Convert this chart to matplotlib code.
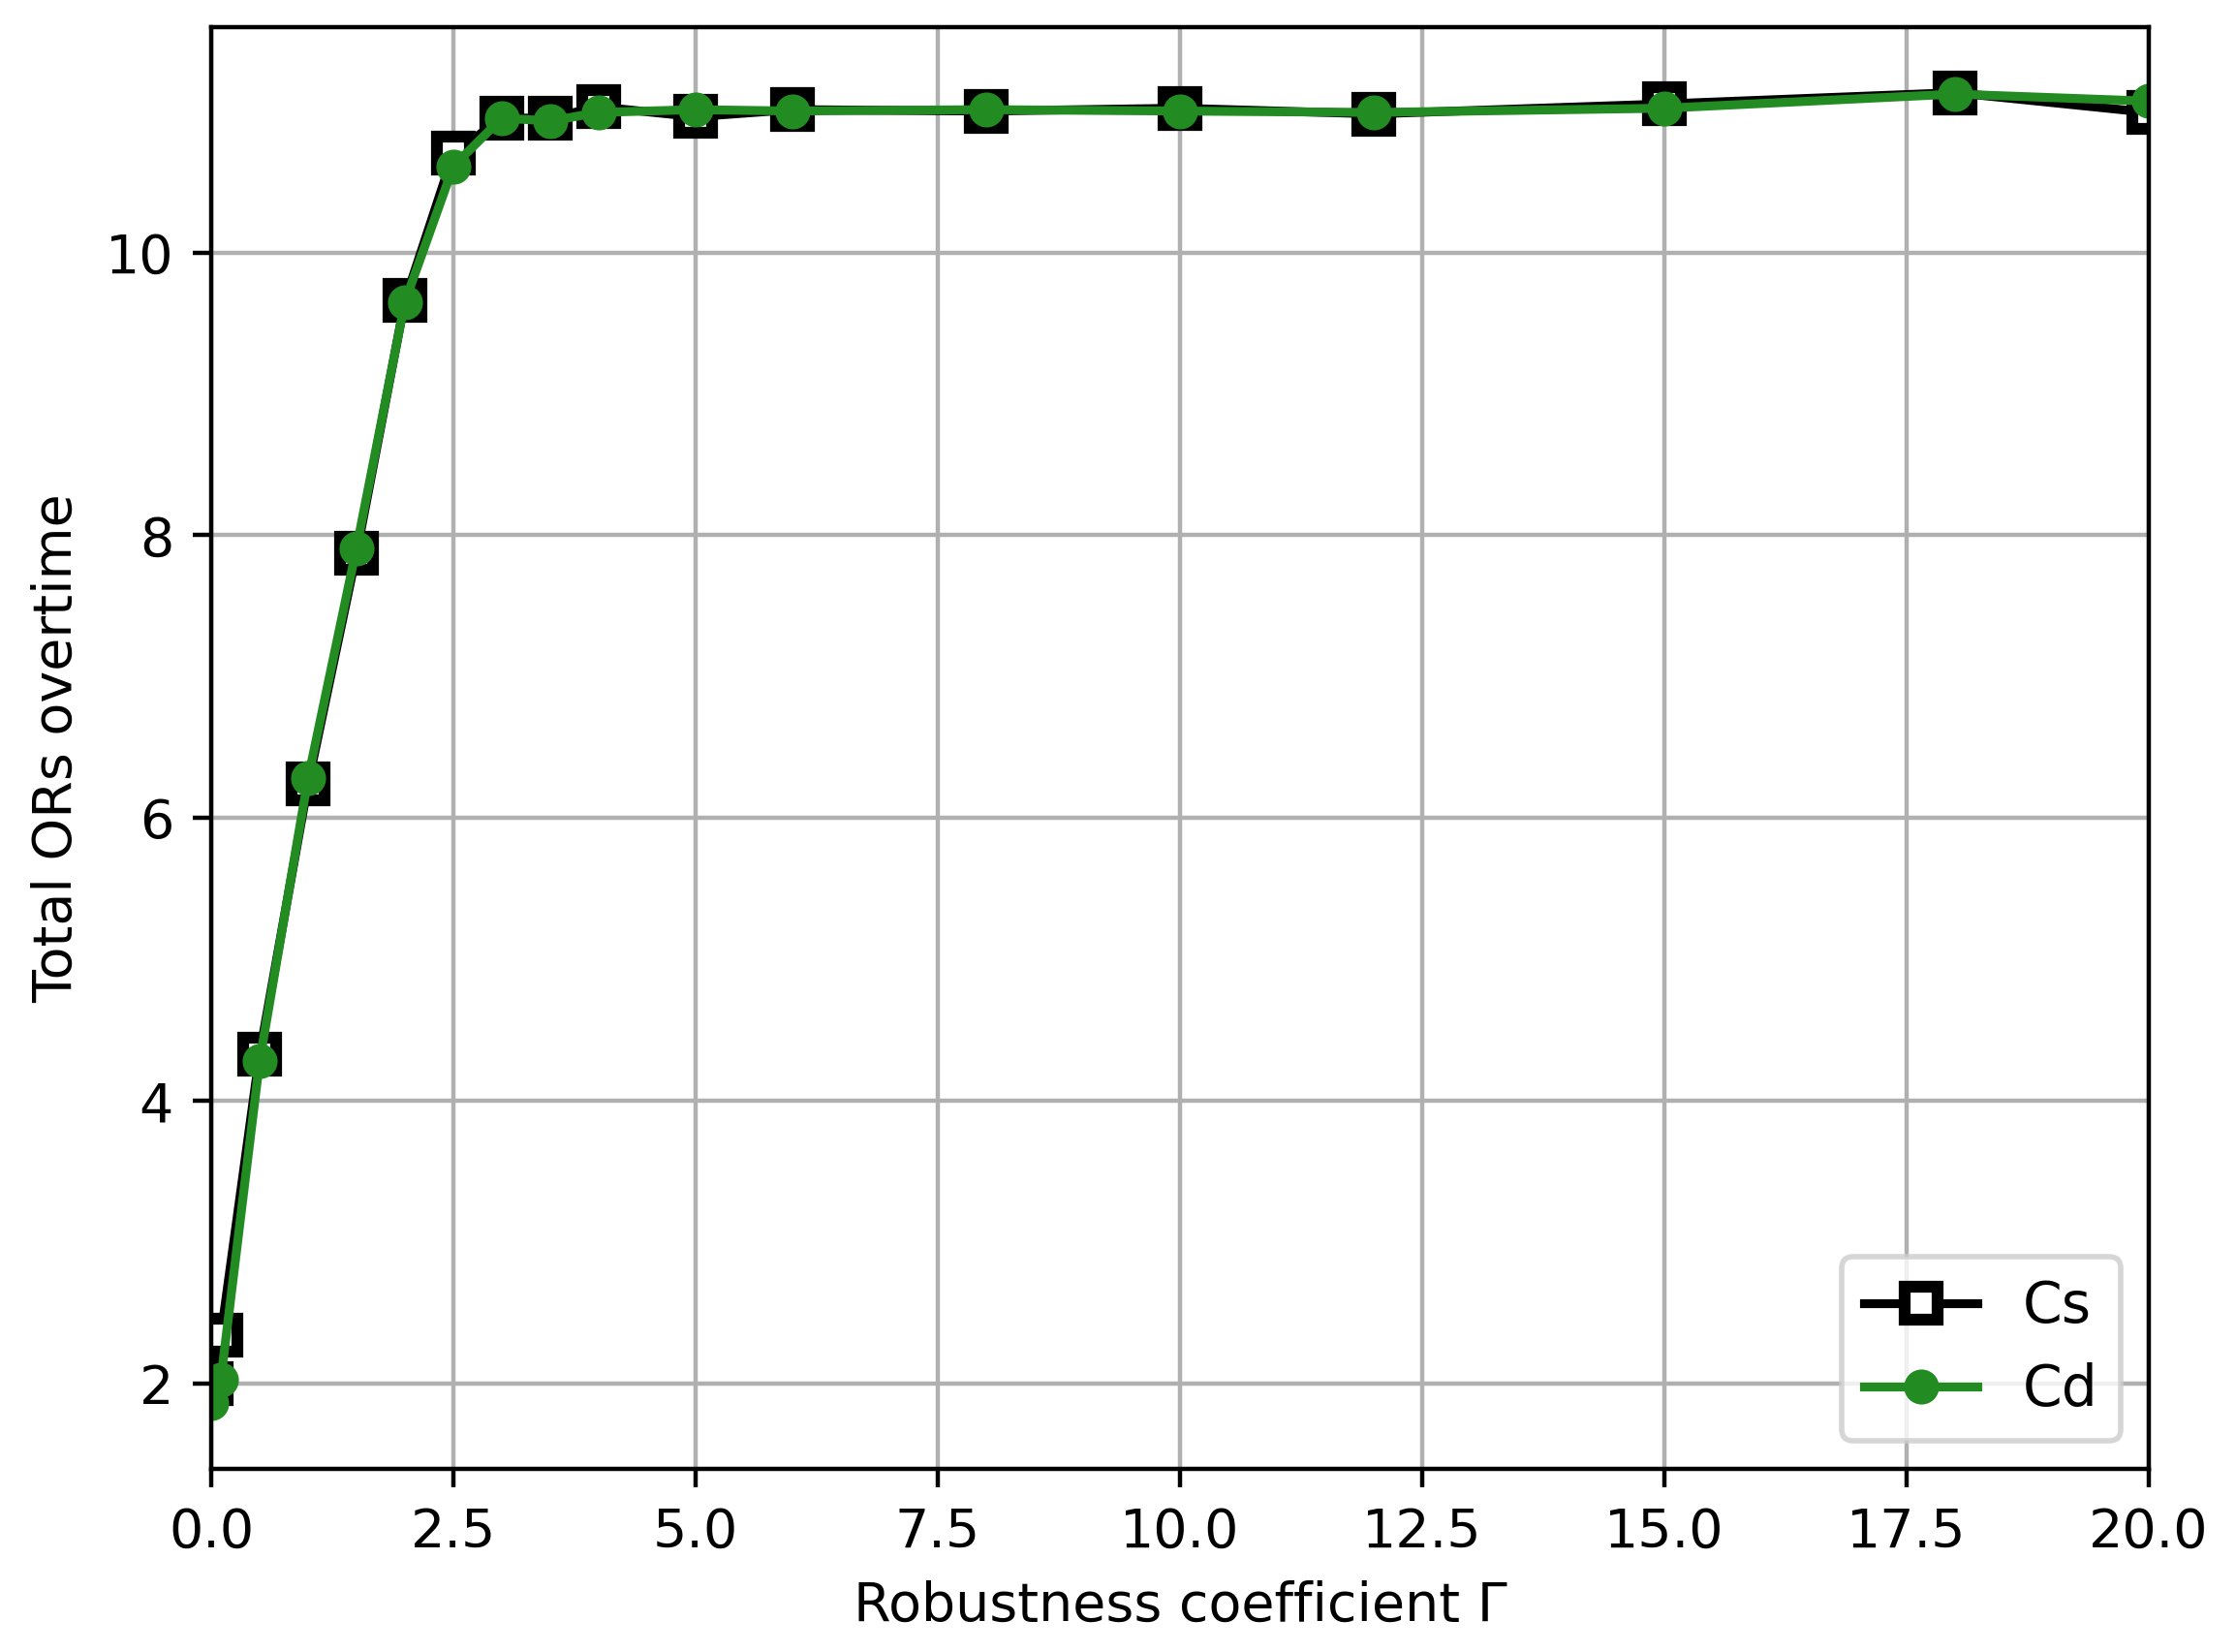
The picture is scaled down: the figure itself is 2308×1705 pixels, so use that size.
import matplotlib
matplotlib.use("Agg")
import matplotlib.pyplot as plt

# robustness coefficient values
gamma_cs = [0, 0.1, 0.5, 1, 1.5, 2, 2.5, 3, 3.5, 4, 5, 6, 8, 10, 12, 15, 18, 20]
cs_overtime = [2.0, 2.34, 4.33, 6.24, 7.87, 9.66, 10.70, 10.95, 10.95, 11.03,
               10.96, 11.01, 11.0, 11.02, 10.98, 11.05, 11.13, 10.99]

gamma_cd = [0, 0.1, 0.5, 1, 1.5, 2, 2.5, 3, 3.5, 4, 5, 6, 8, 10, 12, 15, 18, 20]
cd_overtime = [1.86, 2.03, 4.28, 6.28, 7.91, 9.65, 10.61, 10.95, 10.93, 10.99,
               11.01, 11.0, 11.01, 11.0, 10.99, 11.02, 11.12, 11.07]

dpi = 400
fig = plt.figure(figsize=(2308 / dpi, 1705 / dpi), dpi=dpi)
ax = fig.add_axes([218 / 2308, 1 - 1516 / 1705, 2000 / 2308, 1488 / 1705])

ax.plot(gamma_cs, cs_overtime, color='black', marker='s', markersize=6.1,
        markerfacecolor='white', markeredgewidth=2.2, linewidth=1.65, label='Cs')
ax.plot(gamma_cd, cd_overtime, color='forestgreen', marker='o', markersize=5.5,
        linewidth=1.65, label='Cd')

ax.set_xlim(0, 20)
ax.set_xlabel('Robustness coefficient Γ', fontsize=10)
ax.set_ylabel('Total ORs overtime', fontsize=10)
ax.tick_params(labelsize=10)
ax.grid(True)
ax.legend(loc='lower right', fontsize=10.5)

fig.savefig('out.png', dpi=dpi)
